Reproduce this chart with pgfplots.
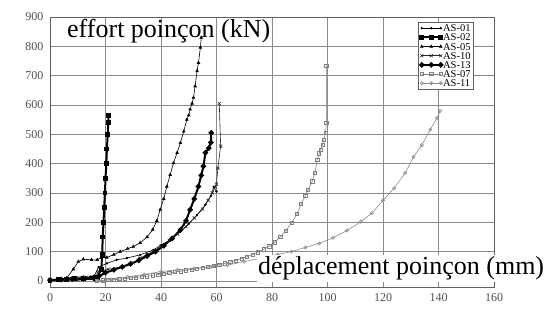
\documentclass[border=0pt]{standalone}
\usepackage{fontspec}
\setmainfont{Liberation Serif}
\usepackage{pgfplots}
\pgfplotsset{compat=1.18}
\definecolor{gridc}{HTML}{8A8A8A}
\definecolor{axc}{HTML}{606060}
\definecolor{tickc}{HTML}{505050}
\definecolor{grayA}{HTML}{808080}
\definecolor{grayB}{HTML}{8C8C8C}
\begin{document}
\begin{tikzpicture}[x=1pt,y=1pt]
\useasboundingbox (0,0) rectangle (549,312);
\begin{axis}[
  at={(50pt,24.6pt)}, anchor=south west,
  scale only axis, width=444pt, height=270.4pt,
  xmin=0, xmax=160, ymin=-22, ymax=900,
  xtick={0,20,...,160}, ytick={0,100,...,900},
  grid=major, grid style={gridc, line width=0.8pt},
  axis line style={axc, line width=0.8pt},
  major tick length=0pt,
  tick label style={font=\fontsize{12}{12}\selectfont, text=tickc},
  /pgf/number format/assume math mode=true,
  xticklabel style={yshift=-3pt},
  yticklabel style={xshift=-3pt},
  legend style={at={(0.953,0.981)}, anchor=north east, draw=axc, line width=0.5pt,
    font=\fontsize{10.5}{10}\selectfont, inner sep=1.5pt, row sep=0.6pt,
    nodes={inner sep=0.8pt, text depth=0pt}, cells={anchor=west}},
  legend image code/.code={\draw[#1] plot coordinates {(0pt,0pt) (9.5pt,0pt) (19pt,0pt)};},
  legend cell align=left,
]
% AS-01
\addplot[black, line width=0.6pt, mark=*, mark size=0.9pt] coordinates {
(0,0) (4,8) (8,12) (12,15) (16,18) (17.5,47) (20.5,60) (24,72) (27.7,78) (32.5,89) (37.3,106) (40,122) (43.3,140) (47,168) (50,195) (53,225) (56,260) (58,290) (59,320) (60,305)};
\addlegendentry{AS-01}
% AS-02
\addplot[black, line width=2pt, mark=square*, mark size=1.4pt] coordinates {
(0,2) (3,4) (6,6) (9,8) (12,9) (15,10) (17,12) (18.5,40) (18.8,90) (19,150) (19.3,200) (19.5,250) (19.8,300) (20,350) (20.3,400) (20.5,450) (20.8,500) (21,540) (21,565)};
\addlegendentry{AS-02}
% AS-05
\addplot[black, line width=0.6pt, mark=triangle*, mark size=1.5pt] coordinates {
(0,0) (3,2) (6,10) (8.4,40) (10.2,66) (12,74) (15,72) (17,72) (18.5,80) (20.5,80) (23,90) (25.3,100) (28,110) (30,117) (32.5,130) (35,150) (37,175) (38.5,205) (39.7,243) (41,280) (42.1,322) (43.3,362) (44.5,402) (45.8,437) (47,471) (48.2,510) (49.3,550) (50,565) (50.5,585) (51.2,605) (51.7,625) (52.3,664) (53,716) (53.5,744) (54.2,796) (54.5,830)};
\addlegendentry{AS-05}
% AS-10
\addplot[black!85, line width=0.6pt, mark=x, mark size=2.2pt] coordinates {
(0,0) (5,2) (10,3) (16,5) (17.4,32) (21,40) (26.5,49) (30,62) (32.5,78) (35,90) (37.3,102) (40,118) (43,138) (46,160) (49,185) (52,215) (55,245) (57,275) (58.5,300) (59.5,320) (60,330) (60.5,385) (61.5,460) (61,605)};
\addlegendentry{AS-10}
% AS-13
\addplot[black, line width=2pt, mark=*, mark size=1.6pt] coordinates {
(0,3) (4,5) (8,6) (12,7) (16,8) (17.5,15) (20,28) (23,38) (26,48) (29,58) (32,70) (35,85) (38,100) (41,120) (44,145) (47,174) (49,205) (50.5,243) (52,280) (53.5,322) (54.5,360) (55.3,391) (56,437) (57.2,453) (58,472) (58.1,505)};
\addlegendentry{AS-13}
% AS-07
\addplot[grayA, line width=0.6pt, mark=square, mark size=1.6pt] coordinates {
(17,0) (19,2) (21,3) (23,4) (25,6) (27,8) (29,10) (31,12) (33,14) (35,16) (37,19) (39,22) (41,24) (43,27) (45,30) (47,33) (49,36) (51,39) (53,42) (55,45) (57,48) (59,52) (61,56) (63,60) (65,65) (67,70) (69,76) (71,83) (73,90) (75,98) (77,108) (79,118) (81,132) (83,150) (85,172) (87,198) (89,228) (90.5,262) (92,290) (93,312) (94.5,340) (95.5,370) (96.3,414) (97,435) (97.5,448) (98.2,465) (98.7,482) (99.3,505) (99.6,539) (99.6,733)};
\addlegendentry{AS-07}
% AS-11
\addplot[grayB, line width=0.6pt, mark=o, mark size=1.6pt] coordinates {
(17,0) (22,5) (28,14) (34,22) (40,32) (46,38) (52,43) (58,48) (64,54) (70,66) (76,78) (82,90) (87,100) (92,114) (97,128) (102,147) (107,172) (112,202) (116,231) (120,275) (124,316) (128,368) (131,423) (134,463) (137,516) (139.5,556) (140.6,580)};
\addlegendentry{AS-11}
\end{axis}
\node[anchor=base west, font=\fontsize{26}{26}\selectfont, inner sep=0pt] at (67,274) {effort poinçon (kN)};
\node[anchor=base west, font=\fontsize{26}{26}\selectfont, fill=white, inner xsep=1pt, inner ysep=1.5pt] at (257,37) {déplacement poinçon (mm)};
\end{tikzpicture}
\end{document}
